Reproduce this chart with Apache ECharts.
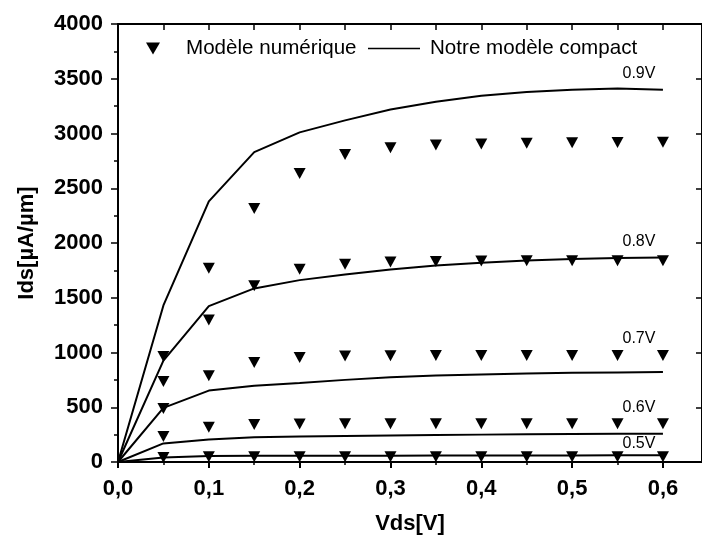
<!DOCTYPE html>
<html>
<head>
<meta charset="utf-8">
<script src="https://cdn.jsdelivr.net/npm/echarts@6/dist/echarts.min.js"></script>
<style>
  html, body { margin: 0; padding: 0; background: #fff; }
  #chart { width: 702px; height: 545px; }
</style>
</head>
<body>
<div id="chart"></div>
<script>
// Drain voltage sweep (V)
const vdsLine = [0, 0.05, 0.1, 0.15, 0.2, 0.25, 0.3, 0.35, 0.4, 0.45, 0.5, 0.55, 0.6];
const vdsPoints = [0.05, 0.1, 0.15, 0.2, 0.25, 0.3, 0.35, 0.4, 0.45, 0.5, 0.55, 0.6];

// Gate voltages, one curve each
const gateLabels = ['0.9V', '0.8V', '0.7V', '0.6V', '0.5V'];

// Compact model Ids (µA/µm), one array per gate voltage
const compact09 = [0, 1430, 2380, 2830, 3010, 3120, 3220, 3290, 3345, 3380, 3400, 3410, 3400];
const compact08 = [0, 925, 1424, 1585, 1661, 1712, 1758, 1795, 1820, 1840, 1853, 1862, 1867];
const compact07 = [0, 494, 652, 697, 722, 750, 775, 790, 800, 808, 814, 818, 822];
const compact06 = [0, 170, 206, 225, 233, 238, 243, 247, 250, 253, 255, 257, 258];
const compact05 = [0, 40, 55, 56, 57, 58, 58, 59, 59, 60, 60, 61, 61];

// Numerical model Ids (µA/µm)
const numeric09 = [964, 1770, 2315, 2635, 2808, 2870, 2895, 2905, 2912, 2915, 2918, 2920];
const numeric08 = [736, 1297, 1610, 1760, 1805, 1827, 1832, 1835, 1837, 1838, 1838, 1838];
const numeric07 = [488, 788, 909, 955, 967, 970, 972, 973, 973, 973, 973, 973];
const numeric06 = [234, 318, 343, 348, 349, 349, 349, 349, 349, 349, 349, 349];
const numeric05 = [40, 49, 49, 49, 49, 49, 49, 49, 49, 49, 49, 49];

// Axis tick values
const xMajorTicks = [0, 0.1, 0.2, 0.3, 0.4, 0.5, 0.6];
const xMinorTicks = [0.05, 0.15, 0.25, 0.35, 0.45, 0.55];
const xTopTicks = [0, 0.05, 0.1, 0.15, 0.2, 0.25, 0.3, 0.35, 0.4, 0.45, 0.5, 0.55, 0.6];

const seriesNumeric = 'Modèle numérique';
const seriesCompact = 'Notre modèle compact';

const compactSets = [compact09, compact08, compact07, compact06, compact05];
const numericSets = [numeric09, numeric08, numeric07, numeric06, numeric05];

const FONT = 'Liberation Sans, Arial, sans-serif';
const triangleDown = 'path://M0,0L12,0L6,11Z';

// Offsets of each gate-voltage tag from the end of its compact curve
const tagOffsets = [[-24, -16], [-24, -16], [-24, -33], [-24, -26], [-24, -12]];

const zip = (xs, ys) => xs.map((x, i) => [x, ys[i]]);

const series = [];
compactSets.forEach((ys, k) => {
  series.push({
    name: seriesCompact,
    type: 'line',
    xAxisIndex: 0,
    yAxisIndex: 0,
    data: zip(vdsLine, ys),
    showSymbol: false,
    symbol: 'none',
    lineStyle: { color: '#000', width: 2, opacity: 1 },
    itemStyle: { color: '#000', opacity: 1 },
    z: 3,
    endLabel: {
      show: true,
      formatter: gateLabels[k],
      color: '#000',
      fontFamily: FONT,
      fontSize: 16,
      distance: 0,
      align: 'center',
      verticalAlign: 'middle',
      offset: tagOffsets[k]
    }
  });
});
numericSets.forEach((ys) => {
  series.push({
    name: seriesNumeric,
    type: 'scatter',
    xAxisIndex: 0,
    yAxisIndex: 0,
    data: zip(vdsPoints, ys),
    symbol: triangleDown,
    symbolSize: [12, 11],
    symbolKeepAspect: false,
    itemStyle: { color: '#000', opacity: 1 },
    emphasis: { disabled: true },
    z: 4
  });
});

const commaFmt = (v) => v.toFixed(1).replace('.', ',');

const option = {
  animation: false,
  backgroundColor: '#fff',
  grid: { left: 118, right: -1, top: 24, bottom: 83, containLabel: false },
  legend: [
    {
      data: [seriesNumeric],
      left: 141,
      top: 33,
      itemWidth: 16,
      itemHeight: 12,
      icon: 'path://M0,0L14,0L7,12Z',
      itemStyle: { color: '#000', opacity: 1 },
      textStyle: { color: '#000', fontFamily: FONT, fontSize: 20.6, padding: [0, 0, 0, 20] },
      selectedMode: false
    },
    {
      data: [seriesCompact],
      left: 363,
      top: 33,
      itemWidth: 52,
      itemHeight: 12,
      icon: 'path://M0,0L52,0L52,1.6L0,1.6Z',
      itemStyle: { color: '#000', opacity: 1 },
      textStyle: { color: '#000', fontFamily: FONT, fontSize: 20.6, padding: [0, 0, 0, 5] },
      selectedMode: false
    }
  ],
  xAxis: [
    {
      type: 'value',
      position: 'bottom',
      min: 0,
      max: 0.643,
      name: 'Vds[V]',
      nameLocation: 'middle',
      nameGap: 51,
      nameTextStyle: { color: '#000', fontFamily: FONT, fontSize: 22, fontWeight: 'bold' },
      axisLine: { show: true, onZero: false, lineStyle: { color: '#000', width: 2 } },
      axisTick: { show: true, inside: false, length: 6, customValues: xMajorTicks, lineStyle: { color: '#000', width: 2 } },
      axisLabel: {
        show: true, customValues: xMajorTicks, margin: 16,
        color: '#000', fontFamily: FONT, fontSize: 22, fontWeight: 'bold',
        formatter: commaFmt
      },
      splitLine: { show: false }
    },
    {
      type: 'value',
      position: 'top',
      min: 0,
      max: 0.643,
      axisLine: { show: true, onZero: false, lineStyle: { color: '#000', width: 2 } },
      axisTick: { show: true, inside: true, length: 6, customValues: xTopTicks, lineStyle: { color: '#000', width: 1.5 } },
      axisLabel: { show: false },
      splitLine: { show: false }
    },
    {
      type: 'value',
      position: 'bottom',
      min: 0,
      max: 0.643,
      axisLine: { show: false, onZero: false },
      axisTick: { show: true, inside: false, length: 3, customValues: xMinorTicks, lineStyle: { color: '#000', width: 1.5 } },
      axisLabel: { show: false },
      splitLine: { show: false }
    }
  ],
  yAxis: [
    {
      type: 'value',
      position: 'left',
      min: 0,
      max: 4000,
      interval: 500,
      name: 'Ids[µA/µm]',
      nameLocation: 'middle',
      nameGap: 80,
      nameTextStyle: { color: '#000', fontFamily: FONT, fontSize: 22, fontWeight: 'bold' },
      axisLine: { show: true, onZero: false, lineStyle: { color: '#000', width: 2 } },
      axisTick: { show: true, inside: false, length: 7, lineStyle: { color: '#000', width: 1.5 } },
      minorTick: { show: true, splitNumber: 2, length: 4, lineStyle: { color: '#000', width: 1.5 } },
      axisLabel: {
        margin: 15, color: '#000', fontFamily: FONT, fontSize: 22, fontWeight: 'bold',
        formatter: (v) => String(v)
      },
      splitLine: { show: false }
    },
    {
      type: 'value',
      position: 'right',
      min: 0,
      max: 4000,
      interval: 500,
      axisLine: { show: true, onZero: false, lineStyle: { color: '#000', width: 2 } },
      axisTick: { show: true, inside: true, length: 6, lineStyle: { color: '#000', width: 1.5 } },
      axisLabel: { show: false },
      splitLine: { show: false }
    }
  ],
  series: series
};

const chart = echarts.init(document.getElementById('chart'), null, { renderer: 'canvas' });
chart.setOption(option);
</script>
</body>
</html>
